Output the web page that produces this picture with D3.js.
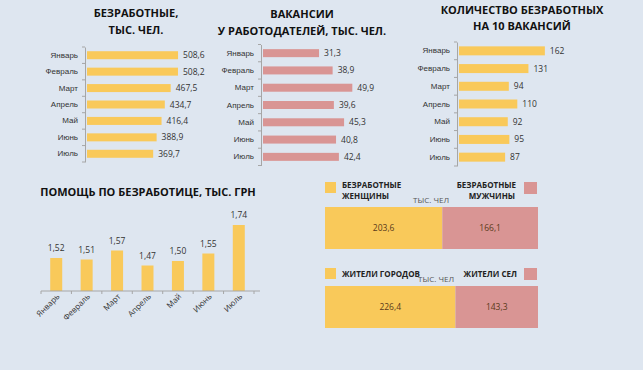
<!DOCTYPE html>
<html>
<head>
<meta charset="utf-8">
<script src="https://cdn.jsdelivr.net/npm/d3@7"></script>
<style>
  body { margin: 0; background: #dee6f0; }
  svg { display: block; font-family: "Open Sans", "Noto Sans", sans-serif; }
  .title { font-weight: bold; font-size: 11px; fill: #111; }
  .lbl { font-size: 8px; fill: #333; }
  .val { font-size: 8.5px; fill: #333; }
</style>
</head>
<body>
<svg id="chart" width="643" height="370"></svg>
<script>
const months = ["Январь", "Февраль", "Март", "Апрель", "Май", "Июнь", "Июль"];
const unemployed = [508.6, 508.2, 467.5, 434.7, 416.4, 388.9, 369.7];
const vacancies = [31.3, 38.9, 49.9, 39.6, 45.3, 40.8, 42.4];
const perTen = [162, 131, 94, 110, 92, 95, 87];
const benefit = [1.52, 1.51, 1.57, 1.47, 1.50, 1.55, 1.74];
const genderNames = ["БЕЗРАБОТНЫЕ ЖЕНЩИНЫ", "БЕЗРАБОТНЫЕ МУЖЧИНЫ"];
const genderValues = [203.6, 166.1];
const placeNames = ["ЖИТЕЛИ ГОРОДОВ", "ЖИТЕЛИ СЕЛ"];
const placeValues = [226.4, 143.3];

const yellow = "#f9c95a";
const pink = "#d99594";
const fmt = v => String(v).replace(".", ",");
const fmt2 = v => v.toFixed(2).replace(".", ",");

const svg = d3.select("#chart");

function title(lines, x, y, dy) {
    lines.forEach((t, i) => {
        svg.append("text").attr("class", "title")
            .attr("x", x).attr("y", y + i * dy)
            .attr("text-anchor", "middle").text(t);
    });
}

// horizontal bar panel
function hbar(data, color, x0, x1, maxV, y0, y1, barH, fmtV) {
    const y = d3.scaleBand().domain(months).range([y0, y1]);
    const x = d3.scaleLinear().domain([0, maxV]).range([x0, x1]);
    const g = svg.append("g");

    g.append("g")
        .attr("transform", `translate(${x0 - 2},0)`)
        .call(d3.axisLeft(y).tickSize(0).tickPadding(7))
        .call(a => a.select(".domain").attr("stroke", "#a6a6a6"))
        .call(a => a.selectAll("text").attr("class", "lbl").attr("font-size", null).attr("font-family", null));

    // small ticks on band boundaries
    g.selectAll(".bt").data(d3.range(months.length + 1)).enter().append("line")
        .attr("x1", x0 - 5).attr("x2", x0 - 2)
        .attr("y1", i => y0 + i * y.step()).attr("y2", i => y0 + i * y.step())
        .attr("stroke", "#a6a6a6");

    g.selectAll("rect").data(data).enter().append("rect")
        .attr("x", x(0))
        .attr("y", (d, i) => y(months[i]) + (y.bandwidth() - barH) / 2)
        .attr("width", d => x(d) - x(0))
        .attr("height", barH)
        .attr("fill", color);

    g.selectAll(".val").data(data).enter().append("text")
        .attr("class", "val")
        .attr("x", d => x(d) + 5)
        .attr("y", (d, i) => y(months[i]) + y.bandwidth() / 2 + 3)
        .text(fmtV);
}

title(["БЕЗРАБОТНЫЕ,", "ТЫС. ЧЕЛ."], 136, 17, 17);
hbar(unemployed, yellow, 87, 194.4, 600, 47, 162, 8, fmt);

title(["ВАКАНСИИ", "У РАБОТОДАТЕЛЕЙ, ТЫС. ЧЕЛ."], 302, 18, 17);
hbar(vacancies, pink, 263, 370.4, 60, 44.5, 165.5, 8, fmt);

title(["КОЛИЧЕСТВО БЕЗРАБОТНЫХ", "НА 10  ВАКАНСИЙ"], 522, 14, 16);
hbar(perTen, yellow, 459, 565, 200, 42, 166, 9, fmt);

// column chart
title(["ПОМОЩЬ ПО БЕЗРАБОТИЦЕ, ТЫС. ГРН"], 148, 196, 0);
{
    const x = d3.scaleBand().domain(months).range([41, 254]);
    const y = d3.scaleLinear().domain([1.3, 1.8]).range([291, 216]);
    const g = svg.append("g");
    g.selectAll("rect").data(benefit).enter().append("rect")
        .attr("x", (d, i) => x(months[i]) + x.bandwidth() / 2 - 6)
        .attr("y", d => y(d))
        .attr("width", 12)
        .attr("height", d => y(1.3) - y(d))
        .attr("fill", yellow);
    g.selectAll(".val").data(benefit).enter().append("text")
        .attr("class", "val")
        .attr("text-anchor", "middle")
        .attr("x", (d, i) => x(months[i]) + x.bandwidth() / 2)
        .attr("y", d => y(d) - 7)
        .text(fmt2);
    g.append("line").attr("x1", 41).attr("x2", 260)
        .attr("y1", y(1.3)).attr("y2", y(1.3)).attr("stroke", "#a6a6a6");
    g.selectAll(".bt").data(d3.range(months.length + 1)).enter().append("line")
        .attr("x1", i => 41 + i * x.step()).attr("x2", i => 41 + i * x.step())
        .attr("y1", y(1.3)).attr("y2", y(1.3) + 3)
        .attr("stroke", "#a6a6a6");
    g.selectAll(".xl").data(months).enter().append("text")
        .attr("class", "lbl")
        .attr("text-anchor", "end")
        .attr("transform", d => `translate(${x(d) + x.bandwidth() / 2 + 4},${y(1.3) + 6}) rotate(-45)`)
        .text(d => d);
}

// stacked split bars
function split(names, values, top, legendY, unitX) {
    const total = d3.sum(values);
    const x = d3.scaleLinear().domain([0, total]).range([325, 538]);
    const g = svg.append("g");
    const starts = [0, values[0]];
    [yellow, pink].forEach((c, i) => {
        g.append("rect")
            .attr("x", x(starts[i])).attr("y", top)
            .attr("width", x(starts[i] + values[i]) - x(starts[i]))
            .attr("height", 42).attr("fill", c);
        g.append("text").attr("class", "val")
            .attr("text-anchor", "middle")
            .style("fill", "#5a3a1a")
            .attr("x", (x(starts[i]) + x(starts[i] + values[i])) / 2)
            .attr("y", top + 24)
            .text(fmt(values[i]));
    });
    // legend
    g.append("rect").attr("x", 325).attr("y", legendY).attr("width", 11).attr("height", 11).attr("fill", yellow);
    g.append("rect").attr("x", 524).attr("y", legendY).attr("width", 13).attr("height", 12).attr("fill", pink);
    g.append("text").attr("x", unitX).attr("y", top - 4)
        .attr("font-size", 8).attr("fill", "#555").text("ТЫС. ЧЕЛ");
    return g;
}

function legendText(g, x, y, anchor, t) {
    g.append("text").attr("x", x).attr("y", y).attr("text-anchor", anchor)
        .attr("font-size", 8).attr("font-weight", "bold").attr("fill", "#222").text(t);
}

const g1 = split(genderNames, genderValues, 207, 182, 413);
legendText(g1, 342, 188, "start", "БЕЗРАБОТНЫЕ");
legendText(g1, 342, 199, "start", "ЖЕНЩИНЫ");
legendText(g1, 516, 188, "end", "БЕЗРАБОТНЫЕ");
legendText(g1, 515, 199, "end", "МУЖЧИНЫ");

const g2 = split(placeNames, placeValues, 286, 268, 418);
legendText(g2, 342, 277, "start", "ЖИТЕЛИ ГОРОДОВ");
legendText(g2, 517, 277, "end", "ЖИТЕЛИ СЕЛ");
</script>
</body>
</html>
